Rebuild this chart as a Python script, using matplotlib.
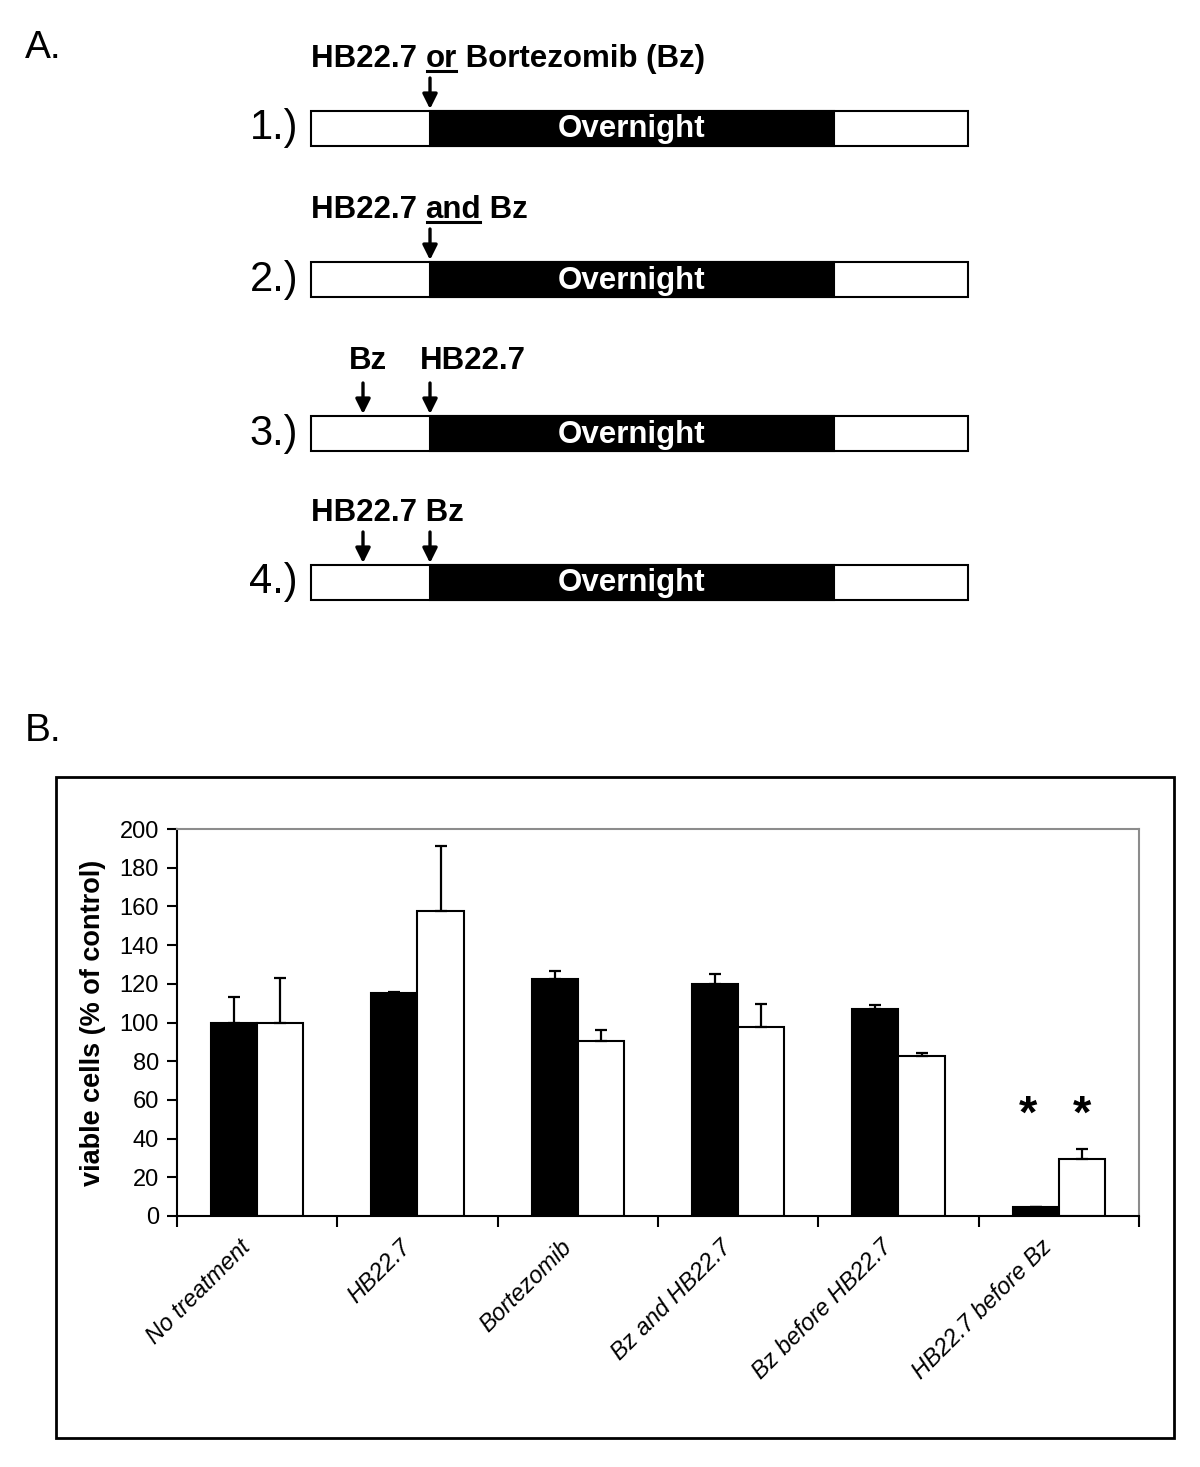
import matplotlib.pyplot as plt
from matplotlib.patches import Rectangle
from matplotlib.transforms import ScaledTranslation
import numpy as np

plt.rcParams['font.family'] = ['Liberation Sans', 'DejaVu Sans']

# --- panel B : viabilite (% du controle)
groupes = ["No treatment", "HB22.7", "Bortezomib", "Bz and HB22.7",
           "Bz before HB22.7", "HB22.7 before Bz"]
noir = [100, 115.3, 122.3, 119.8, 107.0, 4.8]
noir_err = [13.2, 0.7, 4.5, 5.1, 1.9, 0]
blanc = [100, 157.7, 90.6, 97.8, 82.5, 29.2]
blanc_err = [23.2, 33.5, 5.3, 11.9, 1.9, 5.3]
etoile_groupe = 5
etoile_y = 52

# --- panel A : schema des traitements
numeros = ["1.)", "2.)", "3.)", "4.)"]
haut_barres = [111, 262, 416, 565]
# morceaux de texte : (texte, souligne)
legendes = [
    [("HB22.7 ", False), ("or", True), (" Bortezomib (Bz)", False)],
    [("HB22.7 ", False), ("and", True), (" Bz", False)],
    None,
    [("HB22.7 Bz", False)],
]
fleches = [[430], [430], [363, 430], [363, 430]]

fig = plt.figure(figsize=(12, 14.67), dpi=100)
ax0 = fig.add_axes([0, 0, 1, 1])
ax0.set_xlim(0, 1200)
ax0.set_ylim(1467, 0)
ax0.axis('off')
r = fig.canvas.get_renderer()

ax0.text(25, 30, "A.", fontsize=28, va='top', ha='left')
ax0.text(25, 713, "B.", fontsize=28, va='top', ha='left')


def ecrit(x, y, morceaux):
    for txt, sous in morceaux:
        t = ax0.text(x, y, txt, fontsize=22.5, fontweight='bold',
                     va='baseline', ha='left')
        w = t.get_window_extent(r).width
        if sous:
            ax0.plot([x + 1, x + w - 1], [y + 4, y + 4], color='k', lw=2.2)
        x += w


for i, yb in enumerate(haut_barres):
    h = 35
    ax0.add_patch(Rectangle((311, yb), 657, h, facecolor='white', edgecolor='k', lw=1.5))
    ax0.add_patch(Rectangle((430, yb), 404, h, facecolor='k', edgecolor='k', lw=1.5))
    ax0.text(632, yb + h / 2 + 1, "Overnight", color='white', fontsize=22.5,
             fontweight='bold', ha='center', va='center')
    ax0.text(298, yb + h / 2, numeros[i], fontsize=30, ha='right', va='center')
    for xf in fleches[i]:
        ax0.annotate("", xy=(xf, yb - 2), xytext=(xf, yb - 33),
                     arrowprops=dict(arrowstyle='-|>', color='k', lw=2.4,
                                     mutation_scale=22, shrinkA=0, shrinkB=0))
    if legendes[i] is not None:
        ecrit(311, yb - 44, legendes[i])

# ligne 3 : deux etiquettes separees
ax0.text(349, 369, "Bz", fontsize=22.5, fontweight='bold', va='baseline')
ax0.text(420, 369, "HB22.7", fontsize=22.5, fontweight='bold', va='baseline')

# cadre du panel B
ax0.add_patch(Rectangle((56, 777), 1118, 661, fill=False, edgecolor='k', lw=2))

# --- graphique
ax = fig.add_axes([177 / 1200, 251 / 1467, 962 / 1200, 387 / 1467])
x = np.arange(len(groupes))
lb = 0.287
ek = dict(elinewidth=1.6, capthick=1.6, ecolor='k')
ax.bar(x - lb / 2, noir, lb, color='k', edgecolor='k', lw=1.5,
       yerr=[np.zeros(len(x)), noir_err], capsize=4.5, error_kw=ek)
ax.bar(x + lb / 2, blanc, lb, color='white', edgecolor='k', lw=1.5,
       yerr=[np.zeros(len(x)), blanc_err], capsize=4.5, error_kw=ek)

for xe in (etoile_groupe - lb / 2 - 0.05, etoile_groupe + lb / 2):
    ax.text(xe, etoile_y, "*", fontsize=34, fontweight='bold', ha='center', va='center')

ax.set_xlim(-0.5, 5.5)
ax.set_ylim(0, 200)
ax.set_yticks(np.arange(0, 201, 20))
ax.tick_params(axis='y', labelsize=17, length=7, width=1.5, pad=6)
ax.set_xticks(np.arange(-0.5, 6, 1), minor=True)
ax.tick_params(axis='x', which='minor', length=8, width=1.5)
ax.set_xticks(x)
ax.set_xticklabels(groupes, rotation=45, ha='right', va='center',
                   rotation_mode='anchor', style='italic', fontsize=17)
ax.tick_params(axis='x', which='major', length=0, pad=20)
decal = ScaledTranslation(-10 / 100, 0, fig.dpi_scale_trans)
for lab in ax.get_xticklabels():
    lab.set_transform(lab.get_transform() + decal)
ax.set_ylabel("viable cells (% of control)", fontweight='bold', fontsize=19.5, labelpad=10)

for s in ('left', 'bottom'):
    ax.spines[s].set_linewidth(1.5)
for s in ('top', 'right'):
    ax.spines[s].set_color('#8c8c8c')
    ax.spines[s].set_linewidth(1.5)

fig.savefig("out.png", dpi=100)
